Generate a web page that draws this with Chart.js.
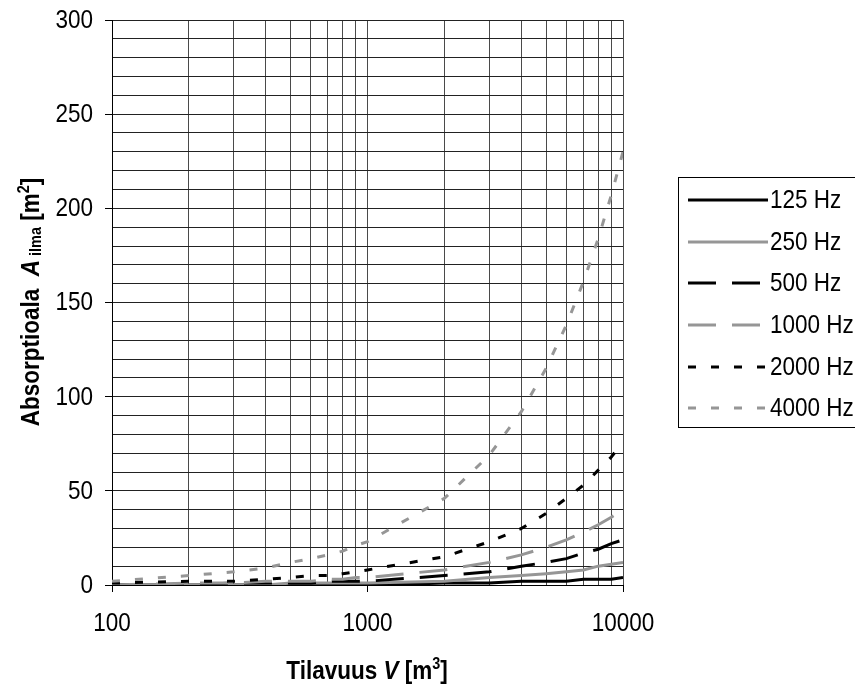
<!DOCTYPE html>
<html>
<head>
<meta charset="utf-8">
<script src="https://cdn.jsdelivr.net/npm/chart.js@4/dist/chart.umd.min.js"></script>
<style>
  html, body { margin: 0; padding: 0; background: #fff; }
  #wrap { width: 855px; height: 690px; position: relative; }
</style>
</head>
<body>
<div id="wrap"><canvas id="c" width="855" height="690"></canvas></div>
<script>
// Room volume (m³) and air absorption area (m²) per octave band
const volumes = [100, 200, 300, 400, 500, 600, 700, 800, 900, 1000,
                 2000, 3000, 4000, 5000, 6000, 7000, 8000, 9000, 10000];
const a125  = [0, 0, 0, 0, 0, 0, 0, 0, 0, 0, 1, 1, 2, 2, 2, 3, 3, 3, 4];
const a250  = [0, 0, 0, 0, 1, 1, 1, 1, 1, 1, 2, 4, 5, 6, 7, 8, 10, 11, 12];
const a500  = [0, 0, 1, 1, 1, 1, 2, 2, 2, 2, 5, 7, 10, 12, 14, 17, 19, 22, 24];
const a1000 = [0, 1, 1, 2, 2, 2, 3, 3, 4, 4, 8, 12, 16, 20, 24, 28, 32, 36, 40];
const a2000 = [1, 2, 2, 3, 4, 5, 5, 6, 7, 8, 15, 23, 30, 38, 46, 53, 61, 68, 76];
const a4000 = [2, 5, 7, 9, 12, 14, 16, 18, 21, 23, 46, 69, 92, 115, 138, 161, 184, 207, 230];

const seriesNames = ['125 Hz', '250 Hz', '500 Hz', '1000 Hz', '2000 Hz', '4000 Hz'];
const xTickLabels = [100, 1000, 10000];
const yTickLabels = [0, 50, 100, 150, 200, 250, 300];

const FONT = '"Liberation Sans", Arial, sans-serif';
const NARROW = 0.9;           // horizontal squeeze giving a narrow face
const BLACK = '#000000';
const GREY = '#969696';

const styles = [
  { color: BLACK, dash: [] },
  { color: GREY,  dash: [] },
  { color: BLACK, dash: [28, 16] },
  { color: GREY,  dash: [28, 16] },
  { color: BLACK, dash: [8, 15] },
  { color: GREY,  dash: [8, 15] }
];

const seriesValues = [a125, a250, a500, a1000, a2000, a4000];

const datasets = seriesValues.map((vals, i) => ({
  label: seriesNames[i],
  data: vals.map((v, k) => ({ x: volumes[k], y: v })),
  borderColor: styles[i].color,
  backgroundColor: styles[i].color,
  borderDash: styles[i].dash,
  borderWidth: 3,
  borderCapStyle: 'butt',
  pointRadius: 0,
  tension: 0,
  fill: false,
  order: seriesValues.length - i
}));

function narrowText(ctx, text, x, y, font, align, baseline) {
  ctx.save();
  ctx.translate(x, y);
  ctx.scale(NARROW, 1);
  ctx.font = font;
  ctx.textAlign = align;
  ctx.textBaseline = baseline;
  ctx.fillText(text, 0, 0);
  ctx.restore();
}

// Runs of text with mixed styles (italic symbol, sub/superscripts), centred on cx
function drawParts(ctx, parts, cx, baseY) {
  ctx.save();
  ctx.translate(cx, baseY);
  ctx.scale(NARROW, 1);
  let total = 0;
  parts.forEach(p => { ctx.font = p.f; total += ctx.measureText(p.t).width; });
  let x = -total / 2;
  ctx.textAlign = 'left';
  ctx.textBaseline = 'alphabetic';
  parts.forEach(p => {
    ctx.font = p.f;
    ctx.fillText(p.t, x, p.dy);
    x += ctx.measureText(p.t).width;
  });
  ctx.restore();
}

// Tick labels, axis titles and the framed legend
const decorations = {
  id: 'decorations',
  afterDraw(chart) {
    const ctx = chart.ctx;
    const xs = chart.scales.x, ys = chart.scales.y;
    ctx.save();
    ctx.fillStyle = '#000';

    yTickLabels.forEach(v => {
      narrowText(ctx, String(v), 93, ys.getPixelForValue(v) + 1, '25px ' + FONT, 'right', 'middle');
    });
    xTickLabels.forEach(v => {
      narrowText(ctx, String(v), xs.getPixelForValue(v), 624, '25px ' + FONT, 'center', 'middle');
    });

    drawParts(ctx, [
      { t: 'Tilavuus ', f: 'bold 25px ' + FONT, dy: 0 },
      { t: 'V', f: 'italic bold 25px ' + FONT, dy: 0 },
      { t: ' [m', f: 'bold 25px ' + FONT, dy: 0 },
      { t: '3', f: 'bold 16px ' + FONT, dy: -10 },
      { t: ']', f: 'bold 25px ' + FONT, dy: 0 }
    ], 367, 679);

    ctx.save();
    ctx.translate(39, 302);
    ctx.rotate(-Math.PI / 2);
    drawParts(ctx, [
      { t: 'Absorptioala  ', f: 'bold 25px ' + FONT, dy: 0 },
      { t: 'A', f: 'italic bold 25px ' + FONT, dy: 0 },
      { t: ' ilma', f: 'bold 16px ' + FONT, dy: 2 },
      { t: ' [m', f: 'bold 25px ' + FONT, dy: 0 },
      { t: '2', f: 'bold 16px ' + FONT, dy: -10 },
      { t: ']', f: 'bold 25px ' + FONT, dy: 0 }
    ], 0, 0);
    ctx.restore();

    // legend
    ctx.strokeStyle = '#000';
    ctx.lineWidth = 1;
    ctx.setLineDash([]);
    ctx.strokeRect(678.5, 177.5, 200, 250);
    const rowY = [200, 242, 283, 325, 367, 408];
    chart.data.datasets.forEach((ds, i) => {
      const y = rowY[i];
      ctx.beginPath();
      ctx.strokeStyle = ds.borderColor;
      ctx.lineWidth = 3;
      ctx.lineCap = 'butt';
      ctx.setLineDash(ds.borderDash);
      ctx.moveTo(688, y);
      ctx.lineTo(768, y);
      ctx.stroke();
      ctx.setLineDash([]);
      ctx.fillStyle = '#000';
      narrowText(ctx, ds.label, 770, y + 1, '25px ' + FONT, 'left', 'middle');
    });
    ctx.restore();
  }
};

new Chart(document.getElementById('c'), {
  type: 'line',
  data: { datasets },
  options: {
    responsive: false,
    animation: false,
    devicePixelRatio: 1,
    layout: { padding: { left: 0, top: 20, right: 232, bottom: 0 } },
    plugins: { legend: { display: false }, tooltip: { enabled: false } },
    scales: {
      x: {
        type: 'logarithmic',
        min: 100,
        max: 10000,
        afterBuildTicks(scale) {
          scale.ticks = volumes.map(v => ({ value: v }));
        },
        afterFit(scale) { scale.height = 105; },
        border: { display: true, color: '#000', width: 1 },
        grid: {
          color: ctx => ctx.index === 0 ? '#000' : '#4a4a4a',
          lineWidth: 1,
          drawTicks: true,
          tickLength: 7,
          tickColor: ctx => (ctx.tick && xTickLabels.includes(ctx.tick.value)) ? '#000' : 'rgba(0,0,0,0)'
        },
        ticks: { display: false, autoSkip: false }
      },
      y: {
        min: 0,
        max: 300,
        afterFit(scale) { scale.width = 112; },
        border: { display: true, color: '#000', width: 1 },
        grid: {
          color: '#222',
          lineWidth: 1,
          drawTicks: true,
          tickLength: 7,
          tickColor: ctx => (ctx.tick && yTickLabels.includes(ctx.tick.value)) ? '#000' : 'rgba(0,0,0,0)'
        },
        ticks: { display: false, stepSize: 10, autoSkip: false }
      }
    }
  },
  plugins: [decorations]
});
</script>
</body>
</html>
